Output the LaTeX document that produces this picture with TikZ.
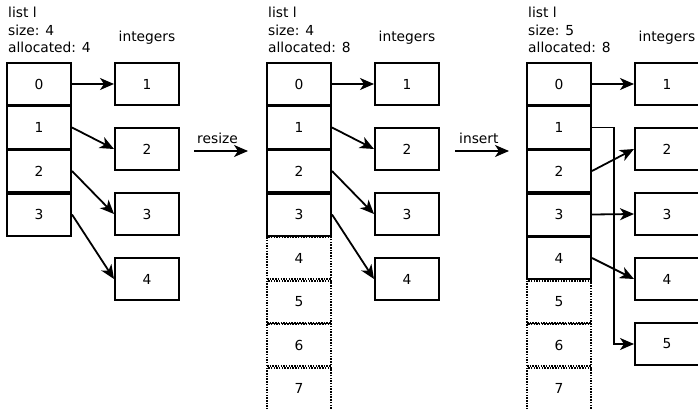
\documentclass[tikz,border=0pt]{standalone}
\usepackage{fontspec}
\setmainfont{DejaVu Sans}
\usetikzlibrary{arrows.meta}

\tikzset{
    cell/.style={draw, line width=2pt, minimum width=64pt, minimum height=42pt, inner sep=0pt},
    freecell/.style={cell, dash pattern=on 1.5pt off 1.2pt},
    ptr/.style={line width=1.8pt, -{Stealth[length=14pt,width=12pt,inset=4pt]}},
    caption/.style={align=left, anchor=north west, inner sep=0pt},
}

\begin{document}
\begin{tikzpicture}[x=1pt, y=-1pt, font=\fontsize{13.8}{17.5}\selectfont]
            \useasboundingbox (0,0) rectangle (698,409);

            % list before resize
            \node[caption] (laba) at (8,7) {list l\\size: 4\\allocated: 4};
            \node[anchor=base] (inta) at (147,42) {integers};
            \foreach \i in {0,...,3}
                \node[cell] (a\i) at (39,84+43.5*\i) {\i};
            \foreach \i in {1,...,4}
                \node[cell] (ai\i) at (147,19+65*\i) {\i};
            \foreach \i/\j in {0/1,1/2,2/3,3/4}
                \draw[ptr] (a\i.east) -- (ai\j.west);

            % resize
            \coordinate (rsa) at (194,151);
            \coordinate (rsb) at (248,151);
            \draw[ptr] (rsa) -- (rsb);
            \node[anchor=base west, inner sep=0pt] (rs) at (197,143) {resize};

            % list after resize
            \node[caption] (labb) at (268,7) {list l\\size: 4\\allocated: 8};
            \node[anchor=base] (intb) at (407,42) {integers};
            \foreach \i in {4,...,7}
                \node[freecell] (b\i) at (299,84+43.5*\i) {\i};
            \foreach \i in {0,...,3}
                \node[cell] (b\i) at (299,84+43.5*\i) {\i};
            \foreach \i in {1,...,4}
                \node[cell] (bi\i) at (407,19+65*\i) {\i};
            \foreach \i/\j in {0/1,1/2,2/3,3/4}
                \draw[ptr] (b\i.east) -- (bi\j.west);

            % insert
            \coordinate (isa) at (455,151);
            \coordinate (isb) at (509,151);
            \draw[ptr] (isa) -- (isb);
            \node[anchor=base west, inner sep=0pt] (is) at (459,143) {insert};

            % list after insert
            \node[caption] (labc) at (528,7) {list l\\size: 5\\allocated: 8};
            \node[anchor=base] (intc) at (667,42) {integers};
            \foreach \i in {5,...,7}
                \node[freecell] (c\i) at (559,84+43.5*\i) {\i};
            \foreach \i in {0,...,4}
                \node[cell] (c\i) at (559,84+43.5*\i) {\i};
            \foreach \i in {1,...,5}
                \node[cell] (ci\i) at (667,19+65*\i) {\i};
            \draw[ptr] (c0.east) -- (ci1.west);
            \draw[ptr] (c1.east) -- ++(22,0) |- (ci5.west);
            \draw[ptr] (c2.east) -- (ci2.west);
            \draw[ptr] (c3.east) -- (ci3.west);
            \draw[ptr] (c4.east) -- (ci4.west);
        \end{tikzpicture}
\end{document}
